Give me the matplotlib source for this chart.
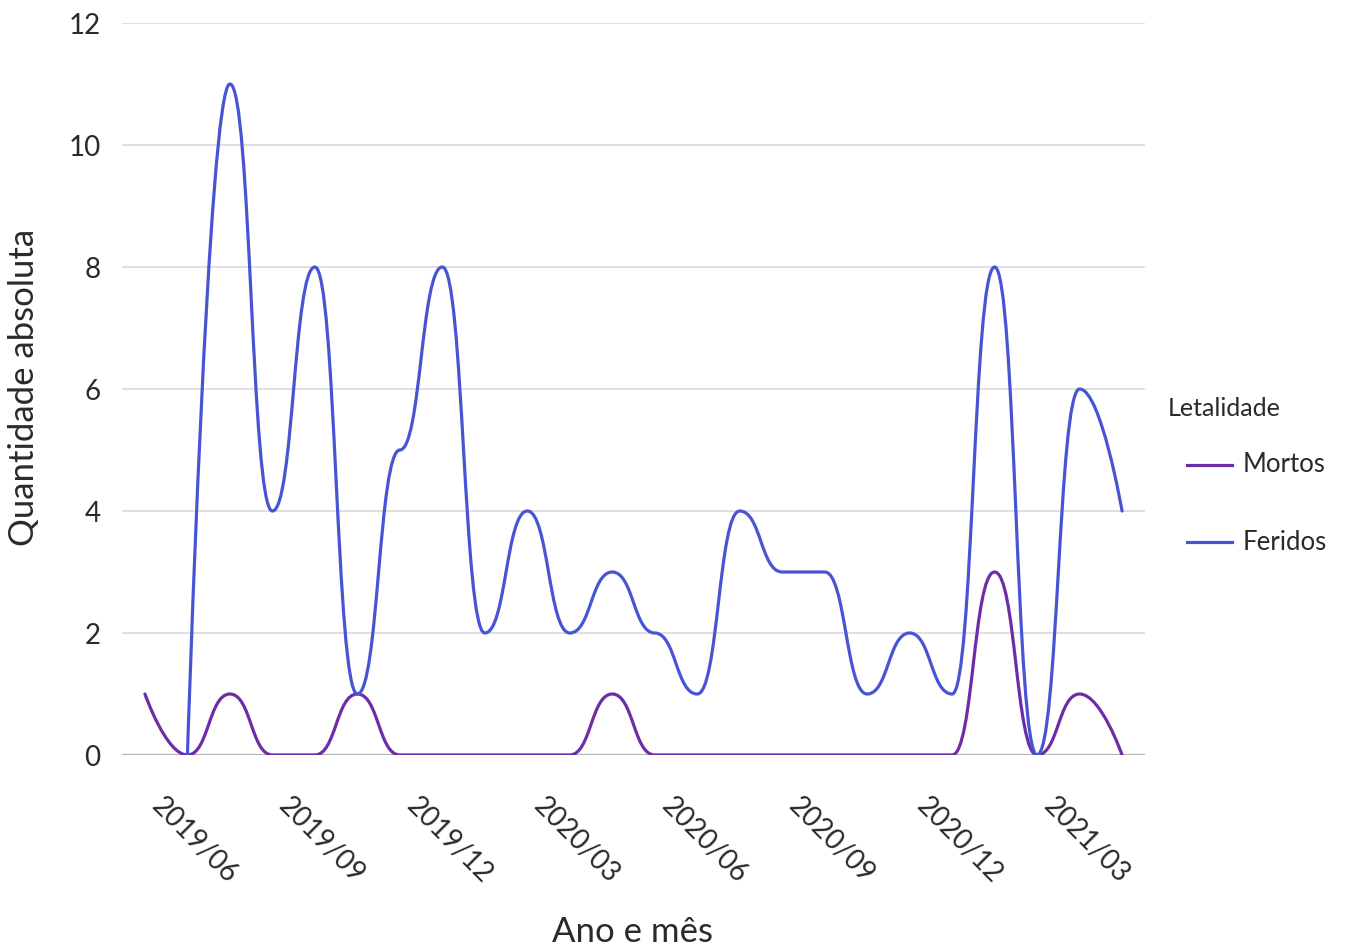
import numpy as np
import matplotlib
matplotlib.use("Agg")
import matplotlib.pyplot as plt
from matplotlib.path import Path
from matplotlib.patches import PathPatch
from matplotlib.lines import Line2D
from matplotlib.transforms import ScaledTranslation

plt.rcParams["font.family"] = ["Lato", "DejaVu Sans"]

# monthly counts, 2019/05 .. 2021/04
meses = ["2019/05", "2019/06", "2019/07", "2019/08", "2019/09", "2019/10",
         "2019/11", "2019/12", "2020/01", "2020/02", "2020/03", "2020/04",
         "2020/05", "2020/06", "2020/07", "2020/08", "2020/09", "2020/10",
         "2020/11", "2020/12", "2021/01", "2021/02", "2021/03", "2021/04"]
mortos = [1, 0, 1, 0, 0, 1, 0, 0, 0, 0, 0, 1,
          0, 0, 0, 0, 0, 0, 0, 0, 3, 0, 1, 0]
feridos = [np.nan, 0, 11, 4, 8, 1, 5, 8, 2, 4, 2, 3,
           2, 1, 4, 3, 3, 1, 2, 1, 8, 0, 6, 4]
series = ["Mortos", "Feridos"]
colors = {"Mortos": "#6E2DA6", "Feridos": "#4754D4"}

TEXT = "#2A2A2A"


def smooth_path(xs, ys, k=0.5):
    """Bezier through the points, flat tangents at inner points."""
    pts = [(x, y) for x, y in zip(xs, ys) if not np.isnan(y)]
    verts = [pts[0]]
    codes = [Path.MOVETO]
    cp0 = pts[0]
    for i in range(1, len(pts)):
        x, y = pts[i]
        px = pts[i - 1][0]
        if i == len(pts) - 1:
            cp1 = (x, y)
            nxt = None
        else:
            cp1 = (x - (x - px) * k, y)
            nxt = (x + (pts[i + 1][0] - x) * k, y)
        verts += [cp0, cp1, (x, y)]
        codes += [Path.CURVE4] * 3
        cp0 = nxt
    return Path(verts, codes)


fig = plt.figure(figsize=(13.46, 9.48), dpi=100)
ax = fig.add_axes([122 / 1346, 1 - 755 / 948, 1023 / 1346, 732 / 948])

x = np.arange(len(meses))
for name, vals in zip(series, [mortos, feridos]):
    patch = PathPatch(smooth_path(x, np.asarray(vals, float)), fill=False,
                      edgecolor=colors[name], lw=2.3, capstyle="round",
                      joinstyle="round", zorder=3)
    ax.add_patch(patch)

ax.set_xlim(-0.54, len(meses) - 1 + 0.54)
ax.set_ylim(0, 12)
ax.set_yticks(range(0, 13, 2))
for v in range(2, 13, 2):
    ax.axhline(v, color="#DDDDDD", lw=1.3, zorder=1)
ax.axhline(0, color="#B5B5B5", lw=1.6, zorder=2)

for s in ax.spines.values():
    s.set_visible(False)
ax.tick_params(axis="both", length=0, colors=TEXT, labelsize=20)
ax.tick_params(axis="y", pad=15.5)
ax.tick_params(axis="x", pad=27)

tick_idx = list(range(1, len(meses), 3))
ax.set_xticks(tick_idx)
ax.set_xticklabels([meses[i] for i in tick_idx], rotation=-45,
                   ha="center", va="top")
shift = ScaledTranslation(7 / 100, 0, fig.dpi_scale_trans)
for lab in ax.get_xticklabels():
    lab.set_transform(lab.get_transform() + shift)

fig.text(8 / 1346, 1 - 387 / 948, "Quantidade absoluta", rotation=90,
         ha="left", va="center", fontsize=25, color=TEXT)
fig.text(633 / 1346, 1 - 942 / 948, "Ano e mês", ha="center",
         va="baseline", fontsize=25, color=TEXT)

# legend
fig.text(1168 / 1346, 1 - 408 / 948, "Letalidade", ha="left", va="center",
         fontsize=18, color=TEXT)
for name, yy in zip(series, [465, 542]):
    fig.add_artist(Line2D([1187 / 1346, 1232 / 1346], [1 - yy / 948] * 2,
                          color=colors[name], lw=2.3,
                          transform=fig.transFigure))
    fig.text(1243 / 1346, 1 - yy / 948, name, ha="left", va="center",
             fontsize=18.5, color=TEXT)

fig.savefig("out.png", dpi=100)
